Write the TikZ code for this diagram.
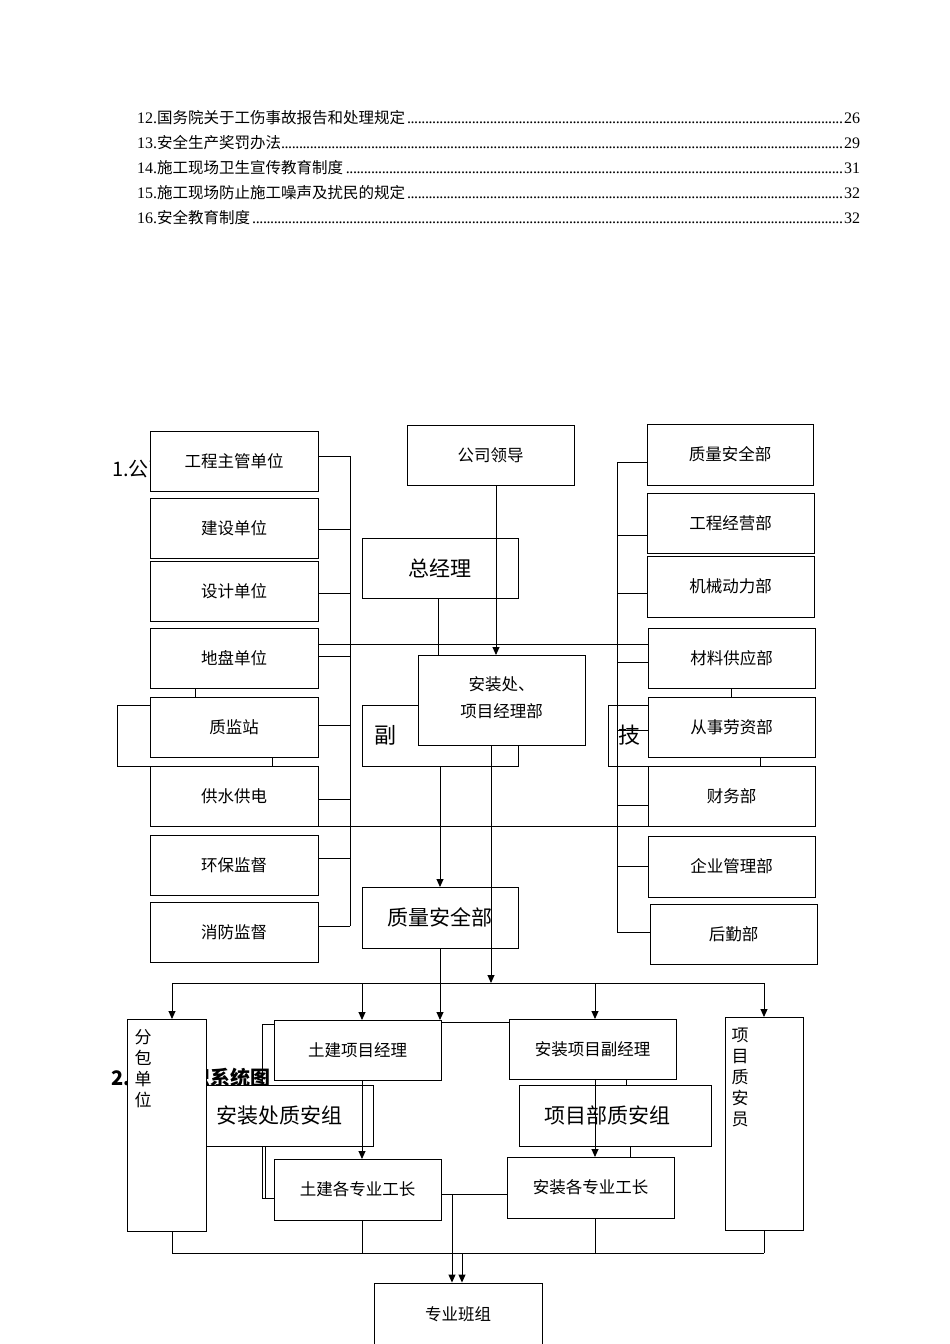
\documentclass[tikz,border=0pt]{standalone}
\usepackage{fontspec}
\setmainfont{Liberation Serif}
\newfontfamily\cjk{Noto Sans CJK SC}
\usetikzlibrary{arrows.meta}
\newcommand\bx[6]{\node[bx,minimum width={(#4-#2)*1pt},minimum height={(#5-#3)*1pt}] (#1) at ({(#2+#4)/2},{(#3+#5)/2}) {#6};}
\newcommand\tdots{\leaders\hbox to 3.6pt{\hss.\hss}\hfill}
\tikzset{bx/.style={draw,fill=white,line width=0.9pt,inner sep=0pt,outer sep=0pt,font=\cjk\fontsize{16.5}{19}\selectfont},
 ln/.style={line width=0.9pt},
 ar/.style={line width=0.9pt,-{Triangle[length=8pt,width=7pt]}},
 toc/.style={anchor=west,inner sep=0pt,font=\fontsize{16}{18}\selectfont}}
\begin{document}
\begin{tikzpicture}[x=1pt,y=-1pt]
\useasboundingbox[fill=white] (0,0) rectangle (950,1344);
% TOC
\foreach \n/\t/\p [count=\i from 0] in {12./国务院关于工伤事故报告和处理规定/26,13./安全生产奖罚办法/29,14./施工现场卫生宣传教育制度/31,15./施工现场防止施工噪声及扰民的规定/32,16./安全教育制度/32}
  \node[toc] (toc\i) at (137,{118+25*\i}) {\makebox[723pt][l]{\n{\cjk\fontsize{15.5}{18}\selectfont\t}\tdots\p}};
% headings (partly hidden)
\node[anchor=west,inner sep=0pt,font=\cjk\fontsize{20}{22}\selectfont] (h1) at (112,469) {1.公司安全管理网络图};
\node[anchor=west,inner sep=0pt,font=\cjk\bfseries\fontsize{20}{22}\selectfont] (h2) at (111,1078) {2.工程组织系统图};
% hidden boxes
\bx{hl}{117}{705}{272}{766}{}
\bx{fu}{362}{705}{518}{766}{\hspace*{-110pt}\fontsize{22}{24}\selectfont 副}
\bx{ji}{608}{705}{760}{766}{\hspace*{-110pt}\fontsize{22}{24}\selectfont 技}
% left column
\bx{l1}{150}{431}{318}{491}{工程主管单位}
\bx{l2}{150}{498}{318}{558}{建设单位}
\bx{l3}{150}{561}{318}{621}{设计单位}
\bx{l4}{150}{628}{318}{688}{地盘单位}
\draw[ln] (195,688) -- (195,697);
\bx{l5}{150}{697}{318}{757}{质监站}
\bx{l6}{150}{766}{318}{826}{供水供电}
\bx{l7}{150}{835}{318}{895}{环保监督}
\bx{l8}{150}{902}{318}{962}{消防监督}
\coordinate (lbt) at (350,456);
\coordinate (lbb) at (350,926);
\draw[ln] (lbt) -- (lbb);
\foreach \b/\y in {l1/456,l2/529,l3/593,l4/656,l5/725,l6/799,l7/858,l8/926}
  \draw[ln] (\b.east |- 0,\y) -- (350,\y);
% right column
\bx{r1}{647}{424}{813}{485}{质量安全部}
\bx{r2}{647}{493}{814}{553}{工程经营部}
\bx{r3}{647}{556}{814}{617}{机械动力部}
\bx{r4}{648}{628}{815}{688}{材料供应部}
\draw[ln] (731,688) -- (731,697);
\bx{r5}{648}{697}{815}{757}{从事劳资部}
\bx{r6}{648}{766}{815}{826}{财务部}
\bx{r7}{648}{836}{815}{897}{企业管理部}
\bx{r8}{650}{904}{817}{964}{后勤部}
\draw[ln] (617,462) -- (617,932);
\foreach \b/\y in {r1/462,r2/535,r3/593,r4/662,r5/730,r6/805,r7/866,r8/932}
  \draw[ln] (617,\y) -- (\b.west |- 0,\y);
% cross lines
\draw[ln] (l4.east |- 0,644) -- (r4.west |- 0,644);
\draw[ln] (195,826) -- (697,826);
% center
\bx{gs}{407}{425}{574}{485}{公司领导}
\bx{zj}{362}{538}{518}{598}{\fontsize{21}{23}\selectfont 总经理}
\draw[ln] (zj.south -| 438,0) -- (fu.north -| 438,0);
\bx{az}{418}{655}{585}{745}{\begin{tabular}{c}安装处、\\[8pt]项目经理部\end{tabular}}
\draw[ar] (gs.south -| 496,0) -- (az.north -| 496,0);
\bx{zl}{362}{887}{518}{948}{\fontsize{21}{23}\selectfont 质量安全部}
\draw[ar] (fu.south -| 440,0) -- (zl.north -| 440,0);
\coordinate (dj) at (491,983);
\draw[ar] (az.south -| 491,0) -- (dj);
% bottom
\draw[ln] (172,983) -- (764,983);
\bx{fb}{127}{1019}{206}{1231}{}
\node[anchor=north,inner sep=0pt,align=center,font=\cjk\fontsize{17}{21}\selectfont] (fbt) at (143,1029) {分\\包\\单\\位};
\bx{zy}{725}{1017}{803}{1230}{}
\node[anchor=north,inner sep=0pt,align=center,font=\cjk\fontsize{17}{21}\selectfont] (zyt) at (740,1028) {项\\目\\质\\安\\员};
\draw[ln] (262,1024) -- (274,1024);
\draw[ln] (262,1024) -- (262,1198) -- (274,1198);
\bx{aq}{206}{1085}{373}{1146}{\fontsize{21}{23}\selectfont\hspace*{-20pt}安装处质安组}
\bx{tj}{274}{1020}{441}{1080}{土建项目经理}
\bx{ax}{509}{1019}{676}{1079}{安装项目副经理}
\draw[ln] (tj.east |- 0,1022) -- (ax.west |- 0,1022);
\bx{xm}{519}{1085}{711}{1146}{\fontsize{21}{23}\selectfont\hspace*{-15pt}项目部质安组}
\draw[ln] (626,1079) -- (626,1085);
\draw[ln] (630,1146) -- (630,1157);
\bx{tg}{274}{1159}{441}{1220}{土建各专业工长}
\bx{ag}{507}{1157}{674}{1218}{安装各专业工长}
\draw[ln] (265,1146) -- (265,1198);
\draw[ar] (172,983) -- (fb.north -| 172,0);
\draw[ar] (362,983) -- (tj.north -| 362,0);
\draw[ar] (595,983) -- (ax.north -| 595,0);
\draw[ar] (764,983) -- (zy.north -| 764,0);
\draw[ar] (zl.south -| 440,0) -- (tj.north -| 440,0);
\draw[ar] (tj.south -| 362,0) -- (tg.north -| 362,0);
\draw[ar] (ax.south -| 595,0) -- (ag.north -| 595,0);
\draw[ln] (172,1253) -- (764,1253);
\draw[ln] (fb.south -| 172,0) -- (172,1253);
\draw[ln] (tg.south -| 362,0) -- (362,1253);
\draw[ln] (ag.south -| 595,0) -- (595,1253);
\draw[ln] (zy.south -| 764,0) -- (764,1253);
\node[draw,line width=0.9pt,inner sep=0pt,minimum width=168pt,minimum height=62pt,font=\cjk\fontsize{16.5}{19}\selectfont] (bz) at (458,1314) {专业班组};
\draw[ln] (tg.east |- 0,1194) -- (ag.west |- 0,1194);
\draw[ar] (452,1194) -- (bz.north -| 452,0);
\draw[ar] (462,1253) -- (bz.north -| 462,0);
\end{tikzpicture}
\end{document}
